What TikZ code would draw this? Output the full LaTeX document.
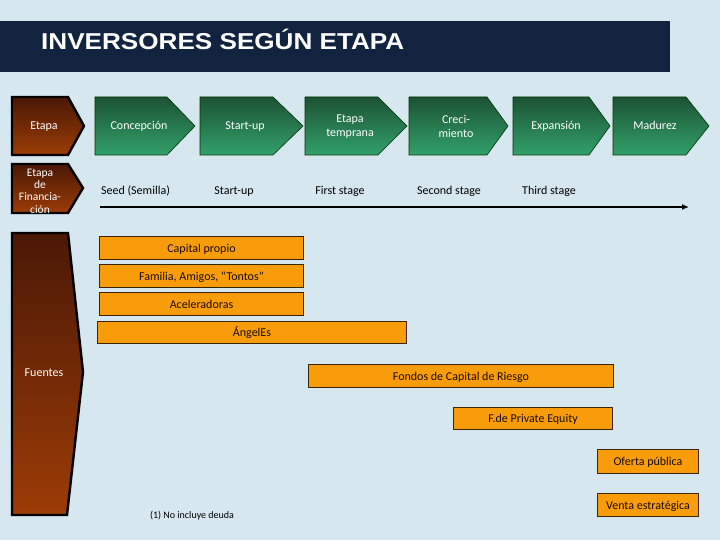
\documentclass[tikz,border=0pt]{standalone}
\usepackage{graphicx}
\usepackage{fontspec}
\setmainfont{Carlito}
\newfontfamily\titlefont{Liberation Sans}
\usetikzlibrary{arrows.meta}
\definecolor{bg}{HTML}{D6E7EF}
\definecolor{navy}{HTML}{12233F}
\definecolor{gtop}{HTML}{1C5234}
\definecolor{gbot}{HTML}{32A06A}
\definecolor{btop}{HTML}{4A1806}
\definecolor{bbot}{HTML}{9C3C06}
\definecolor{orng}{HTML}{F99C0A}
\definecolor{oline}{HTML}{3A2600}
\tikzset{
  greenchev/.style={draw=black!80!green, line width=0.6pt, top color=gtop, bottom color=gbot},
  brownshape/.style={draw=black, line width=2.4pt, line join=miter, top color=btop, bottom color=bbot},
  wlabel/.style={text=white, font=\fontsize{12}{14}\selectfont, align=center, inner sep=0pt},
  wbase/.style={wlabel, anchor=base},
  stagelabel/.style={text=black, font=\fontsize{12}{14}\selectfont, inner sep=0pt, anchor=base},
  obox/.style={draw=oline, line width=1pt, fill=orng, text=black!90!orange, font=\fontsize{12}{14}\selectfont, inner sep=0pt, text height=9pt, text depth=0.6pt, anchor=north west},
}
\newcommand{\greenchev}[3]{% left, body right, tip
  \draw[greenchev] (#1,97) -- (#2,97) -- (#3,126) -- (#2,155) -- (#1,155) -- cycle;
}
\begin{document}
\begin{tikzpicture}[x=1pt,y=-1pt]
\useasboundingbox[fill=bg] (0,0) rectangle (720,540);
% title bar
\fill[navy] (0,21) rectangle (670,72);
\node[anchor=base west, inner sep=0pt, text=white, font=\titlefont\bfseries\fontsize{23}{26}\selectfont] (title) at (41,50) {\scalebox{1.135}[1]{INVERSORES SEGÚN ETAPA}};

% brown shapes
\draw[brownshape] (12,97) -- (68,97) -- (84,126) -- (68,155) -- (12,155) -- cycle;
\node[wbase] (etapa) at (44,130) {Etapa};
\draw[brownshape] (12,164) -- (68,164) -- (83,188) -- (68,213) -- (12,213) -- cycle;
\node[wlabel, font=\fontsize{11.5}{12.3}\selectfont] (etapafin) at (40,191) {Etapa\\de\\Financia-\\ción};
\draw[brownshape] (12,233) -- (68,233) -- (83,372) -- (67,515) -- (12,515) -- cycle;
\node[wbase] (fuentes) at (44,376.5) {Fuentes};

% green chevrons
\greenchev{95}{167}{195}
\greenchev{200}{273}{303}
\greenchev{305}{378}{407}
\greenchev{409}{487}{508}
\greenchev{513}{589}{610}
\greenchev{613}{686}{709}
\node[wbase] (concep) at (139,129.5) {Concepción};
\node[wbase] (startup) at (245,129.5) {Start-up};
\node[wlabel] (temprana) at (350,126.5) {Etapa\\temprana};
\node[wlabel] (crec) at (456,126.5) {Creci-\\miento};
\node[wbase] (expan) at (556,129.5) {Expansión};
\node[wbase] (madur) at (655,129.5) {Madurez};

% financing stages
\node[stagelabel] (seed) at (135.5,194.5) {Seed (Semilla)};
\node[stagelabel] (su2) at (234,194.5) {Start-up};
\node[stagelabel] (first) at (340,194.5) {First stage};
\node[stagelabel] (second) at (449,194.5) {Second stage};
\node[stagelabel] (third) at (549,194.5) {Third stage};
\coordinate (arrA) at (100,207);
\coordinate (arrB) at (689,207);
\draw[line width=2pt, -{Latex[length=7pt,width=6pt]}] (arrA) -- (arrB);

% sources
\node[obox, minimum width=204pt, minimum height=23pt] (cap) at (99,236) {Capital propio};
\node[obox, minimum width=204pt, minimum height=23pt] (fam) at (99,264) {Familia, Amigos, “Tontos”};
\node[obox, minimum width=204pt, minimum height=23pt] (acel) at (99,292) {Aceleradoras};
\node[obox, minimum width=309pt, minimum height=22pt] (ang) at (97,321) {ÁngelEs};
\node[obox, minimum width=305pt, minimum height=23pt] (fond) at (308,364) {Fondos de Capital de Riesgo};
\node[obox, minimum width=159pt, minimum height=22pt] (pe) at (453,407) {F.de Private Equity};
\node[obox, minimum width=101pt, minimum height=24pt] (ofe) at (597,449) {Oferta pública};
\node[obox, minimum width=101pt, minimum height=23pt] (ven) at (597,493) {Venta estratégica};

% footnote
\node[inner sep=0pt, anchor=base, font=\fontsize{10}{12}\selectfont] (nota) at (192,518) {(1) No incluye deuda};
\end{tikzpicture}
\end{document}
